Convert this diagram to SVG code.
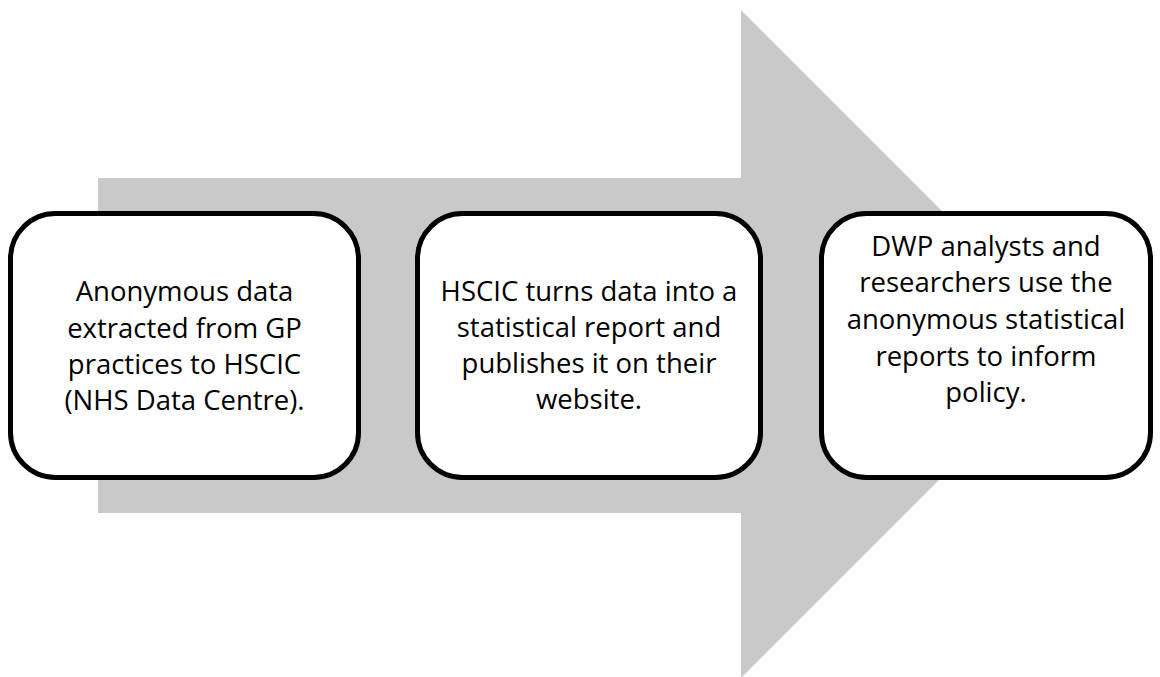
<svg xmlns="http://www.w3.org/2000/svg" width="1160" height="677" viewBox="0 0 1160 677">
<style>
.box{fill:#ffffff;stroke:#000000;stroke-width:5}
.t{font-family:"Open Sans","Noto Sans","Liberation Sans",sans-serif;font-size:27.5px;fill:#000000;text-anchor:middle}
</style>
<rect width="1160" height="677" fill="#ffffff"/>
<g id="connectors">
<path d="M98,178 L741,178 L741,10 L1075,344 L741,678 L741,513 L98,513 Z" fill="#c9c9c9"/>
</g>
<g id="node1">
<rect class="box" x="10.5" y="213.5" width="348" height="264" rx="45" ry="45"/>
<text class="t" x="184.5" y="301">Anonymous data</text>
<text class="t" x="184.5" y="338">extracted from GP</text>
<text class="t" x="184.5" y="374">practices to HSCIC</text>
<text class="t" x="184.5" y="410">(NHS Data Centre).</text>
</g>
<g id="node2">
<rect class="box" x="417.5" y="213.5" width="343" height="264" rx="45" ry="45"/>
<text class="t" x="589" y="301">HSCIC turns data into a</text>
<text class="t" x="589" y="337">statistical report and</text>
<text class="t" x="589" y="373">publishes it on their</text>
<text class="t" x="589" y="409">website.</text>
</g>
<g id="node3">
<rect class="box" x="821.5" y="213.5" width="329" height="264" rx="45" ry="45"/>
<text class="t" x="986" y="256">DWP analysts and</text>
<text class="t" x="986" y="292">researchers use the</text>
<text class="t" x="986" y="329">anonymous statistical</text>
<text class="t" x="986" y="366">reports to inform</text>
<text class="t" x="986" y="402">policy.</text>
</g>
</svg>
